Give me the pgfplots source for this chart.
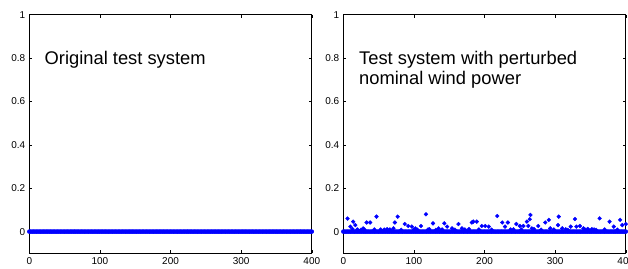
\documentclass[border=0pt]{standalone}
\usepackage{pgfplots}
\usepackage{pgfplotstable}
\pgfplotsset{compat=1.18}
\usepackage{fontspec}
\setmainfont{Liberation Sans}
\definecolor{mblue}{RGB}{0,0,255}

\pgfplotstableread[row sep=\\]{
x y\\
0 0\\ 2 0\\ 4 0\\ 6 0\\ 8 0\\ 10 0\\ 12 0\\ 14 0\\ 16 0\\ 18 0\\
20 0\\ 22 0\\ 24 0\\ 26 0\\ 28 0\\ 30 0\\ 32 0\\ 34 0\\ 36 0\\ 38 0\\
40 0\\ 42 0\\ 44 0\\ 46 0\\ 48 0\\ 50 0\\ 52 0\\ 54 0\\ 56 0\\ 58 0\\
60 0\\ 62 0\\ 64 0\\ 66 0\\ 68 0\\ 70 0\\ 72 0\\ 74 0\\ 76 0\\ 78 0\\
80 0\\ 82 0\\ 84 0\\ 86 0\\ 88 0\\ 90 0\\ 92 0\\ 94 0\\ 96 0\\ 98 0\\
100 0\\ 102 0\\ 104 0\\ 106 0\\ 108 0\\ 110 0\\ 112 0\\ 114 0\\ 116 0\\ 118 0\\
120 0\\ 122 0\\ 124 0\\ 126 0\\ 128 0\\ 130 0\\ 132 0\\ 134 0\\ 136 0\\ 138 0\\
140 0\\ 142 0\\ 144 0\\ 146 0\\ 148 0\\ 150 0\\ 152 0\\ 154 0\\ 156 0\\ 158 0\\
160 0\\ 162 0\\ 164 0\\ 166 0\\ 168 0\\ 170 0\\ 172 0\\ 174 0\\ 176 0\\ 178 0\\
180 0\\ 182 0\\ 184 0\\ 186 0\\ 188 0\\ 190 0\\ 192 0\\ 194 0\\ 196 0\\ 198 0\\
200 0\\ 202 0\\ 204 0\\ 206 0\\ 208 0\\ 210 0\\ 212 0\\ 214 0\\ 216 0\\ 218 0\\
220 0\\ 222 0\\ 224 0\\ 226 0\\ 228 0\\ 230 0\\ 232 0\\ 234 0\\ 236 0\\ 238 0\\
240 0\\ 242 0\\ 244 0\\ 246 0\\ 248 0\\ 250 0\\ 252 0\\ 254 0\\ 256 0\\ 258 0\\
260 0\\ 262 0\\ 264 0\\ 266 0\\ 268 0\\ 270 0\\ 272 0\\ 274 0\\ 276 0\\ 278 0\\
280 0\\ 282 0\\ 284 0\\ 286 0\\ 288 0\\ 290 0\\ 292 0\\ 294 0\\ 296 0\\ 298 0\\
300 0\\ 302 0\\ 304 0\\ 306 0\\ 308 0\\ 310 0\\ 312 0\\ 314 0\\ 316 0\\ 318 0\\
320 0\\ 322 0\\ 324 0\\ 326 0\\ 328 0\\ 330 0\\ 332 0\\ 334 0\\ 336 0\\ 338 0\\
340 0\\ 342 0\\ 344 0\\ 346 0\\ 348 0\\ 350 0\\ 352 0\\ 354 0\\ 356 0\\ 358 0\\
360 0\\ 362 0\\ 364 0\\ 366 0\\ 368 0\\ 370 0\\ 372 0\\ 374 0\\ 376 0\\ 378 0\\
380 0\\ 382 0\\ 384 0\\ 386 0\\ 388 0\\ 390 0\\ 392 0\\ 394 0\\ 396 0\\ 398 0\\
400 0\\
}\zerodata

\pgfplotstableread[row sep=\\]{
x y\\
6 0.060\\ 10 0.023\\ 14 0.046\\ 17 0.030\\ 13 0.012\\ 28 0.015\\ 33 0.042\\ 38 0.042\\
30 0.010\\ 47 0.069\\ 53 0.010\\ 66 0.010\\ 73 0.042\\ 77 0.069\\ 71 0.015\\ 87 0.035\\
92 0.026\\ 97 0.023\\ 102 0.015\\ 110 0.026\\ 117 0.080\\ 120 0.010\\ 127 0.038\\ 135 0.015\\
143 0.038\\ 147 0.023\\ 154 0.015\\ 163 0.035\\ 168 0.015\\ 182 0.042\\ 184 0.046\\ 189 0.046\\
196 0.026\\ 201 0.026\\ 206 0.023\\ 218 0.072\\ 225 0.042\\ 229 0.023\\ 233 0.042\\ 245 0.035\\
250 0.026\\ 255 0.026\\ 260 0.046\\ 264 0.057\\ 265 0.077\\ 262 0.026\\ 267 0.015\\ 276 0.026\\
286 0.042\\ 291 0.054\\ 293 0.015\\ 305 0.069\\ 304 0.030\\ 310 0.015\\ 322 0.023\\ 328 0.058\\
330 0.023\\ 335 0.026\\ 340 0.015\\ 346 0.012\\ 355 0.010\\ 363 0.061\\ 377 0.046\\ 383 0.023\\
392 0.054\\ 395 0.030\\ 400 0.035\\
20 0.010\\ 25 0.008\\ 44 0.010\\ 58 0.009\\ 62 0.011\\ 82 0.008\\ 100 0.010\\ 105 0.009\\
122 0.011\\ 131 0.008\\ 140 0.010\\ 158 0.009\\ 172 0.010\\ 178 0.012\\ 192 0.010\\ 210 0.009\\
237 0.010\\ 241 0.011\\ 252 0.010\\ 270 0.012\\ 280 0.009\\ 298 0.010\\ 315 0.011\\ 318 0.008\\
342 0.010\\ 347 0.009\\ 352 0.011\\ 358 0.008\\ 370 0.010\\ 388 0.009\\
}\perturbdata

\pgfplotsset{
  myaxis/.style={
    scale only axis,
    width=282.5bp, height=238.6bp,
    anchor=south west,
    xmin=0, xmax=400, ymin=-0.1, ymax=1,
    xtick={0,100,200,300,400},
    ytick={0,0.2,0.4,0.6,0.8,1},
    yticklabels={0,0.2,0.4,0.6,0.8,1},
    tick align=inside,
    major tick length=3bp,
    axis line style={line width=0.7bp},
    every tick/.style={black, line width=0.6bp},
    tick label style={font=\fontsize{10}{12}\selectfont},
    /pgf/number format/assume math mode=true,
    xticklabel style={yshift=-1bp},
    yticklabel style={xshift=-0.5bp},
    clip=false,
  },
  zeroline/.style={mblue, line width=3.6bp, line cap=round},
  zeromarks/.style={only marks, mark=*, mark size=2bp, color=mblue, mark options={draw=mblue, fill=mblue}},
  dotmarks/.style={only marks, mark=*, mark size=1.9bp, color=mblue, mark options={draw=none, fill=mblue}},
}

\begin{document}
\begin{tikzpicture}
\path[use as bounding box] (0,0) rectangle (628bp,269bp);
\begin{axis}[myaxis, at={(29.3bp,15.7bp)}]
\addplot[zeroline] table[x=x,y=y] {\zerodata};
\addplot[zeromarks] table[x=x,y=y] {\zerodata};
\node[anchor=base west, inner sep=0pt, font=\fontsize{18.4}{21}\selectfont] at (axis cs:21.5,0.771) {Original test system};
\end{axis}
\begin{axis}[myaxis, at={(343.3bp,15.7bp)}]
\addplot[zeroline] table[x=x,y=y] {\zerodata};
\addplot[zeromarks] table[x=x,y=y] {\zerodata};
\addplot[dotmarks] table[x=x,y=y] {\perturbdata};
\node[anchor=base west, inner sep=0pt, font=\fontsize{18.4}{21}\selectfont] at (axis cs:22.2,0.771) {Test system with perturbed};
\node[anchor=base west, inner sep=0pt, font=\fontsize{18.4}{21}\selectfont] at (axis cs:22.2,0.676) {nominal wind power};
\end{axis}
\end{tikzpicture}
\end{document}
